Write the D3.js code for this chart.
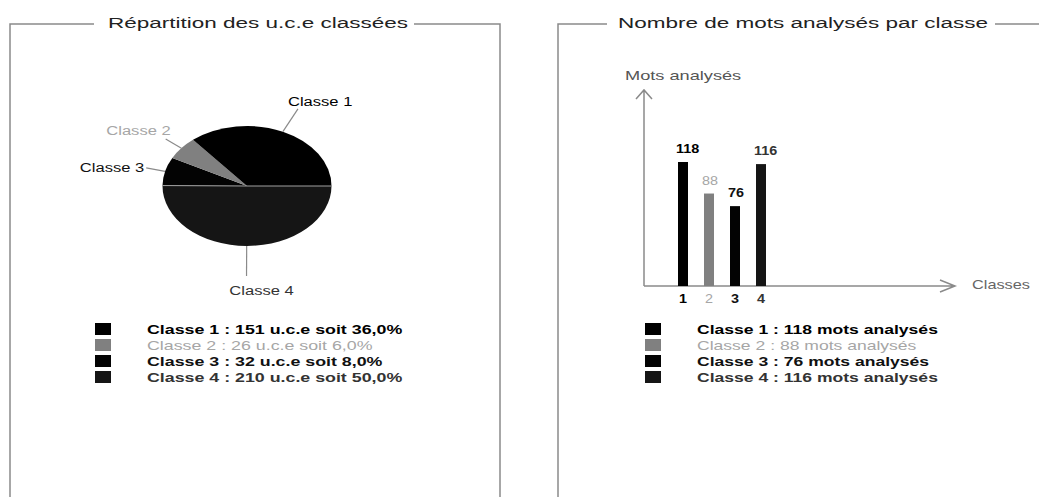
<!DOCTYPE html>
<html>
<head>
<meta charset="utf-8">
<script src="https://cdn.jsdelivr.net/npm/d3@7"></script>
<style>
  body { margin: 0; background: #fff; }
  svg { display: block; font-family: "Liberation Sans", Arial, sans-serif; }
</style>
</head>
<body>
<div id="chart"></div>
<script>
// data
let classes = ["Classe 1", "Classe 2", "Classe 3", "Classe 4"];
let uce = [151, 26, 32, 210];
let uce_pct = ["36,0%", "6,0%", "8,0%", "50,0%"];
let mots = [118, 88, 76, 116];
let tickLabels = ["1", "2", "3", "4"];

let fills = ["#000000", "#808080", "#030303", "#151515"];
let textColors = ["#000000", "#a6a6a6", "#111111", "#333333"];

let width = 1039, height = 497;
let SX = 1.38; // the picture is stretched horizontally

let svg = d3.select("#chart")
    .append("svg")
    .attr("width", width)
    .attr("height", height);

svg.append("rect").attr("width", width).attr("height", height).attr("fill", "#fff");

// stretched text helper
function label(g, x, y, txt, opt) {
  opt = opt || {};
  return g.append("text")
      .attr("transform", `translate(${x}, ${y}) scale(${opt.sx || SX}, 1)`)
      .style("text-anchor", opt.anchor || "start")
      .style("font-size", (opt.size || 13) + "px")
      .style("font-weight", opt.bold ? "bold" : "normal")
      .attr("fill", opt.color || "#000")
      .text(txt);
}

// panel frames
let frame = svg.append("g").attr("fill", "none").attr("stroke", "#8a8a8a").attr("stroke-width", 1.5);
frame.append("path").attr("d", "M10,497 V24 H94 M414,24 H500 V497");
frame.append("path").attr("d", "M558,497 V24 H607 M995,24 H1040");

label(svg, 258, 28, "Répartition des u.c.e classées", {size: 15, sx: 1.5, anchor: "middle", color: "#222"});
label(svg, 803, 28, "Nombre de mots analysés par classe", {size: 15, sx: 1.5, anchor: "middle", color: "#222"});

// ---- pie ----
let cx = 247, cy = 186, rx = 84.5, ry = 60;

// slices go clockwise from 3 o'clock, so Classe 4 fills the bottom half
let pieData = classes.map((c, i) => ({name: c, value: uce[i], i: i})).reverse();
let pie = d3.pie().sort(null).value(d => d.value)
    .startAngle(Math.PI / 2).endAngle(Math.PI * 2.5);
let arcs = pie(pieData);
let arc = d3.arc().innerRadius(0).outerRadius(rx);

let pieG = svg.append("g").attr("transform", `translate(${cx}, ${cy}) scale(1, ${ry / rx})`);
pieG.selectAll("path").data(arcs).enter()
    .append("path")
    .attr("d", arc)
    .attr("fill", d => fills[d.data.i]);

// light edge along the Classe 4 slice boundary
let a4 = arcs[0];
[a4.startAngle, a4.endAngle].forEach(t => {
  svg.append("line")
      .attr("x1", cx).attr("y1", cy)
      .attr("x2", cx + Math.sin(t) * rx).attr("y2", cy - Math.cos(t) * ry)
      .attr("stroke", "#a0a0a0").attr("stroke-width", 1);
});

// leader lines and labels
let leaderOut = [1.42, 1.24, 1.23, 1.5];
let labelPos = [
  {dx: -10, dy: -3, anchor: "start"},
  {dx: 5, dy: -4, anchor: "end"},
  {dx: -2, dy: 4, anchor: "end"},
  {dx: 15, dy: 19, anchor: "middle"}
];
let leaders = svg.append("g");
arcs.forEach(a => {
  let i = a.data.i;
  let m = (a.startAngle + a.endAngle) / 2;
  let ux = Math.sin(m), uy = -Math.cos(m);
  let x0 = cx + ux * rx, y0 = cy + uy * ry;
  let x1 = cx + ux * rx * leaderOut[i], y1 = cy + uy * ry * leaderOut[i];
  leaders.append("line")
      .attr("x1", x0).attr("y1", y0).attr("x2", x1).attr("y2", y1)
      .attr("stroke", "#8a8a8a").attr("stroke-width", 1.2);
  label(leaders, x1 + labelPos[i].dx, y1 + labelPos[i].dy, classes[i],
      {size: 12, anchor: labelPos[i].anchor, color: textColors[i]});
});

// legend rows
let rowY = d3.scalePoint().domain(classes).range([329, 377]);

let leg1 = svg.append("g");
classes.forEach((c, i) => {
  leg1.append("rect").attr("x", 95).attr("y", rowY(c) - 6).attr("width", 16).attr("height", 12)
      .attr("fill", fills[i]);
  label(leg1, 147, rowY(c) + 5, `${c} : ${uce[i]} u.c.e soit ${uce_pct[i]}`,
      {size: 13, bold: i != 1, color: textColors[i], sx: 1.37});
});

// ---- bars ----
let x = d3.scalePoint().domain(tickLabels).range([683, 761]);
let y = d3.scaleLinear().domain([0, 118]).range([286, 162]);
let barW = 10;

let axes = svg.append("g").attr("fill", "none").attr("stroke", "#8a8a8a").attr("stroke-width", 1.5);
axes.append("path").attr("d", `M644,${y(0)} H955 M940,${y(0) - 6} L955,${y(0)} L940,${y(0) + 6}`);
axes.append("path").attr("d", `M644,${y(0)} V90 M636,99 L644,90 L652,99`);

label(svg, 625, 80, "Mots analysés", {size: 13, sx: 1.4, color: "#555"});
label(svg, 972, 289, "Classes", {size: 12, sx: 1.36, color: "#666"});

let barG = svg.append("g");
barG.selectAll("rect").data(mots).enter()
    .append("rect")
    .attr("x", (d, i) => x(tickLabels[i]) - barW / 2)
    .attr("y", d => y(d))
    .attr("width", barW)
    .attr("height", d => y(0) - y(d))
    .attr("fill", (d, i) => fills[i]);

mots.forEach((d, i) => {
  label(barG, x(tickLabels[i]) - barW / 2 - 2, y(d) - 9, d,
      {size: 12, bold: i != 1, sx: 1.2, color: textColors[i]});
  label(barG, x(tickLabels[i]), 303, tickLabels[i],
      {size: 12, bold: i != 1, sx: 1.2, anchor: "middle", color: textColors[i]});
});

let leg2 = svg.append("g");
classes.forEach((c, i) => {
  leg2.append("rect").attr("x", 645).attr("y", rowY(c) - 6).attr("width", 16).attr("height", 12)
      .attr("fill", fills[i]);
  label(leg2, 697, rowY(c) + 5, `${c} : ${mots[i]} mots analysés`,
      {size: 13, bold: i != 1, color: textColors[i], sx: 1.35});
});
</script>
</body>
</html>
